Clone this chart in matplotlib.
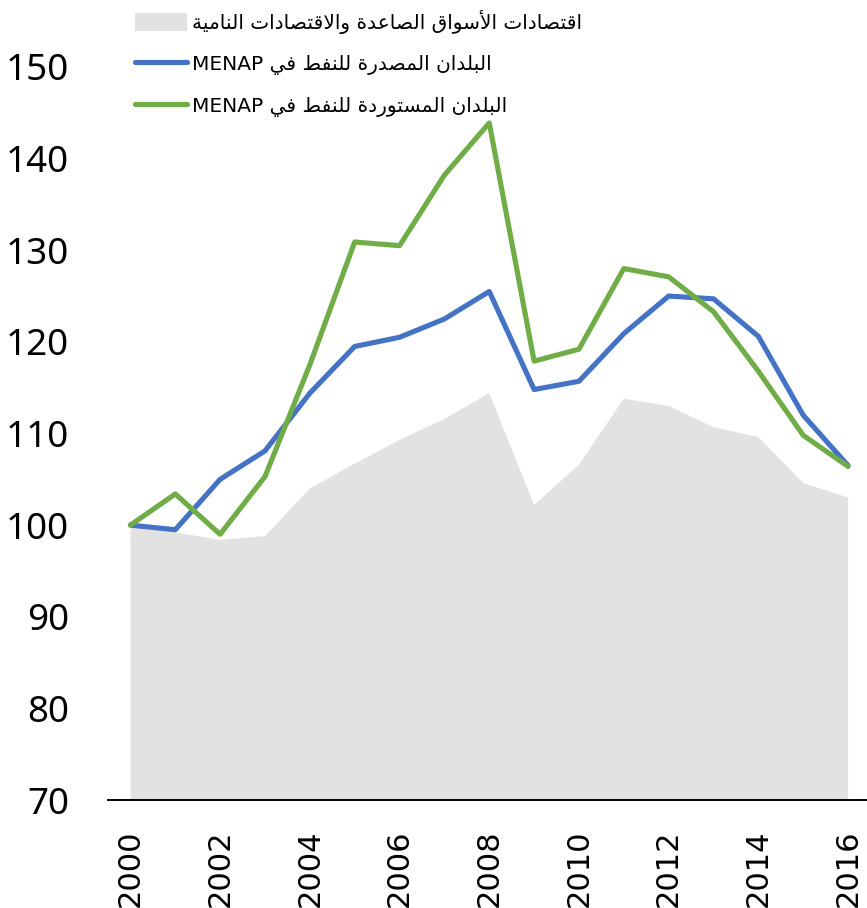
import matplotlib
matplotlib.use("Agg")
import matplotlib.pyplot as plt
from matplotlib import font_manager
from matplotlib.lines import Line2D
from matplotlib.patches import Patch

years = list(range(2000, 2017))
emde = [100, 99.2, 98.4, 98.8, 104.0, 106.7, 109.3, 111.6, 114.4, 102.2,
        106.6, 113.8, 113.0, 110.7, 109.6, 104.6, 103.0]
exporters = [100, 99.5, 105.0, 108.1, 114.4, 119.5, 120.5, 122.5, 125.5, 114.8,
             115.7, 120.9, 125.0, 124.7, 120.6, 112.0, 106.5]
importers = [100, 103.4, 99.0, 105.3, 117.5, 130.9, 130.5, 138.2, 143.9, 117.9,
             119.2, 128.0, 127.1, 123.3, 116.8, 109.8, 106.4]
xticks = list(range(2000, 2017, 2))
yticks = list(range(70, 151, 10))

label_emde = "اقتصادات الأسواق الصاعدة والاقتصادات النامية"
label_exp = "البلدان المصدرة للنفط في"
label_imp = "البلدان المستوردة للنفط في"

# Arabic presentation forms: isolated, final, initial, medial
FORMS = {
    'ا': ('\uFE8D', '\uFE8E', None, None),
    'أ': ('\uFE83', '\uFE84', None, None),
    'ب': ('\uFE8F', '\uFE90', '\uFE91', '\uFE92'),
    'ة': ('\uFE93', '\uFE94', None, None),
    'ت': ('\uFE95', '\uFE96', '\uFE97', '\uFE98'),
    'د': ('\uFEA9', '\uFEAA', None, None),
    'ر': ('\uFEAD', '\uFEAE', None, None),
    'س': ('\uFEB1', '\uFEB2', '\uFEB3', '\uFEB4'),
    'ص': ('\uFEB9', '\uFEBA', '\uFEBB', '\uFEBC'),
    'ط': ('\uFEC1', '\uFEC2', '\uFEC3', '\uFEC4'),
    'ع': ('\uFEC9', '\uFECA', '\uFECB', '\uFECC'),
    'ف': ('\uFED1', '\uFED2', '\uFED3', '\uFED4'),
    'ق': ('\uFED5', '\uFED6', '\uFED7', '\uFED8'),
    'ل': ('\uFEDD', '\uFEDE', '\uFEDF', '\uFEE0'),
    'م': ('\uFEE1', '\uFEE2', '\uFEE3', '\uFEE4'),
    'ن': ('\uFEE5', '\uFEE6', '\uFEE7', '\uFEE8'),
    'و': ('\uFEED', '\uFEEE', None, None),
    'ي': ('\uFEF1', '\uFEF2', '\uFEF3', '\uFEF4'),
}
LAM_ALEF = {'ا': ('\uFEFB', '\uFEFC'), 'أ': ('\uFEF7', '\uFEF8')}


def joins_next(c):
    return c in FORMS and FORMS[c][2] is not None


def shape_ar(text):
    # join letters and reverse for left-to-right drawing
    chars = list(text)
    out = []
    i = 0
    while i < len(chars):
        c = chars[i]
        join_prev = i > 0 and joins_next(chars[i - 1])
        if c == 'ل' and i + 1 < len(chars) and chars[i + 1] in LAM_ALEF:
            iso, fin = LAM_ALEF[chars[i + 1]]
            out.append(fin if join_prev else iso)
            i += 2
            continue
        if c in FORMS:
            nxt = chars[i + 1] if i + 1 < len(chars) else ''
            join_next = joins_next(c) and nxt in FORMS
            iso, fin, ini, med = FORMS[c]
            if join_prev and join_next:
                out.append(med)
            elif join_prev:
                out.append(fin)
            elif join_next:
                out.append(ini)
            else:
                out.append(iso)
        else:
            out.append(c)
        i += 1
    return ''.join(reversed(out))


names = {f.name for f in font_manager.fontManager.ttflist}
narrow = 'Liberation Sans Narrow' if 'Liberation Sans Narrow' in names else 'DejaVu Sans'
xsize = 28 if narrow == 'Liberation Sans Narrow' else 22

blue = '#4472C4'
green = '#70AD47'
grey = '#E2E2E2'

fig = plt.figure(figsize=(8.67, 9.08), dpi=100)
ax = fig.add_axes([108 / 867, 108 / 908, 762.5 / 867, 733 / 908])

ax.fill_between(years, 0, emde, color=grey, linewidth=0)
ax.plot(years, exporters, color=blue, lw=3.7, solid_joinstyle='round', solid_capstyle='round')
ax.plot(years, importers, color=green, lw=3.7, solid_joinstyle='round', solid_capstyle='round')

ax.set_xlim(1999.5, 2016.5)
ax.set_ylim(70, 150)
ax.set_xticks(xticks)
ax.set_yticks(yticks)
ax.set_xticklabels([str(x) for x in xticks], rotation=90, family=narrow, fontsize=xsize)
ax.set_yticklabels([str(y) for y in yticks], family='Noto Sans', fontsize=26.5)
ax.tick_params(axis='x', length=0, pad=21)
ax.tick_params(axis='y', length=0, pad=28)

for s in ['top', 'right', 'left']:
    ax.spines[s].set_visible(False)
ax.spines['bottom'].set_color('black')
ax.spines['bottom'].set_linewidth(1.4)
ax.spines['bottom'].set_zorder(5)

handles = [
    Patch(facecolor=grey, edgecolor='none'),
    Line2D([], [], color=blue, lw=3.7, solid_capstyle='round'),
    Line2D([], [], color=green, lw=3.7, solid_capstyle='round'),
]
labels = [
    shape_ar(label_emde),
    'MENAP ' + shape_ar(label_exp),
    'MENAP ' + shape_ar(label_imp),
]
fig.legend(handles, labels, loc='upper left', bbox_to_anchor=(135 / 867, 1 - 10 / 908),
           frameon=False, borderpad=0, borderaxespad=0, handlelength=2.6,
           handleheight=1.0, handletextpad=0.25, labelspacing=1.02,
           prop={'family': 'DejaVu Sans', 'size': 14.5})

fig.savefig('out.png', dpi=100)
